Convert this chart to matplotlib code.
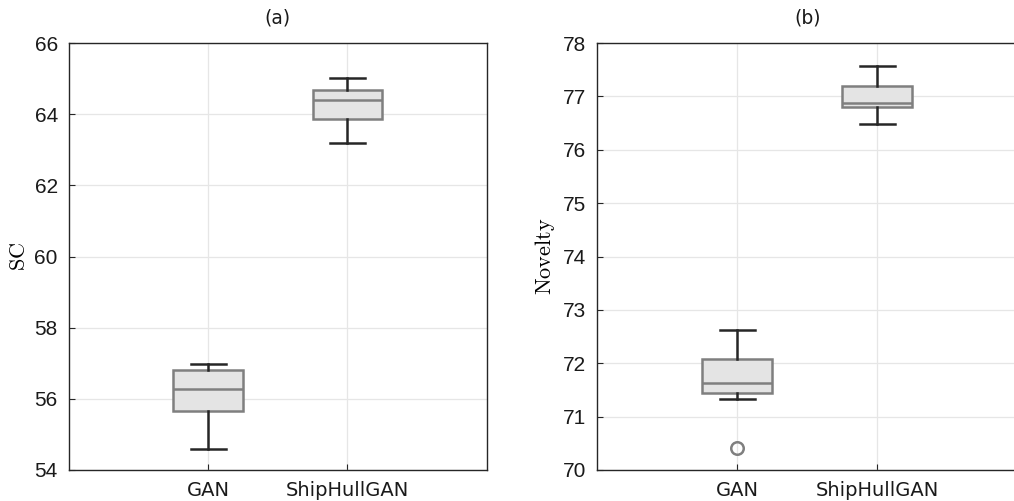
import numpy as np
import matplotlib
matplotlib.use("Agg")
import matplotlib.pyplot as plt

plt.rcParams['mathtext.fontset'] = 'cm'

groups = ["GAN", "ShipHullGAN"]

# SC box stats: whislo, q1, med, q3, whishi
sc_low = [54.60, 63.19]
sc_q1 = [55.66, 63.87]
sc_med = [56.28, 64.40]
sc_q3 = [56.81, 64.68]
sc_high = [56.98, 65.02]
sc_fliers = [[], []]

# Novelty box stats
nov_low = [71.33, 76.48]
nov_q1 = [71.44, 76.80]
nov_med = [71.63, 76.88]
nov_q3 = [72.08, 77.19]
nov_high = [72.63, 77.57]
nov_fliers = [[70.42], []]


def make_stats(low, q1, med, q3, high, fliers):
    stats = []
    for i in range(len(groups)):
        stats.append(dict(label=groups[i], whislo=low[i], q1=q1[i], med=med[i],
                          q3=q3[i], whishi=high[i], fliers=fliers[i]))
    return stats


def draw(ax, stats, ylim, yticks, ylabel, title):
    ax.bxp(stats, positions=[1, 2], widths=0.5, patch_artist=True,
           boxprops=dict(facecolor="#e4e4e4", edgecolor="#7f7f7f", linewidth=1.8),
           medianprops=dict(color="#7f7f7f", linewidth=1.8),
           whiskerprops=dict(color="#262626", linewidth=1.8, linestyle="-"),
           capprops=dict(color="#262626", linewidth=1.8),
           capwidths=0.25,
           flierprops=dict(marker="o", markersize=9, markerfacecolor="none",
                           markeredgecolor="#7f7f7f", markeredgewidth=1.8),
           zorder=3)
    ax.set_xlim(0, 3)
    ax.set_ylim(*ylim)
    ax.set_yticks(yticks)
    ax.set_xticks([1, 2])
    ax.set_xticklabels(groups, fontsize=14, family="DejaVu Sans")
    for t in ax.get_yticklabels():
        t.set_fontfamily("Liberation Sans")
        t.set_fontsize(15)
    ax.tick_params(direction="in", length=4, width=0.8, colors="#262626",
                   labelcolor="#1a1a1a", pad=8)
    ax.grid(True, color="#e6e6e6", linewidth=0.9, zorder=0)
    ax.set_axisbelow(True)
    for s in ax.spines.values():
        s.set_color("#262626")
        s.set_linewidth(1.0)
    ax.set_ylabel(ylabel, fontsize=16)
    ax.set_title(title, fontsize=13.5, family="DejaVu Sans", pad=14,
                 color="#1a1a1a")


fig = plt.figure(figsize=(10.14, 5.01), dpi=100)
ax1 = fig.add_axes([0.068, 0.062, 0.412, 0.852])
ax2 = fig.add_axes([0.589, 0.062, 0.414, 0.852])

draw(ax1, make_stats(sc_low, sc_q1, sc_med, sc_q3, sc_high, sc_fliers),
     (54, 66), np.arange(54, 67, 2), r"$\mathrm{SC}$", "(a)")
draw(ax2, make_stats(nov_low, nov_q1, nov_med, nov_q3, nov_high, nov_fliers),
     (70, 78), np.arange(70, 79, 1), r"$\mathrm{Novelty}$", "(b)")

fig.savefig("out.png", dpi=100)
